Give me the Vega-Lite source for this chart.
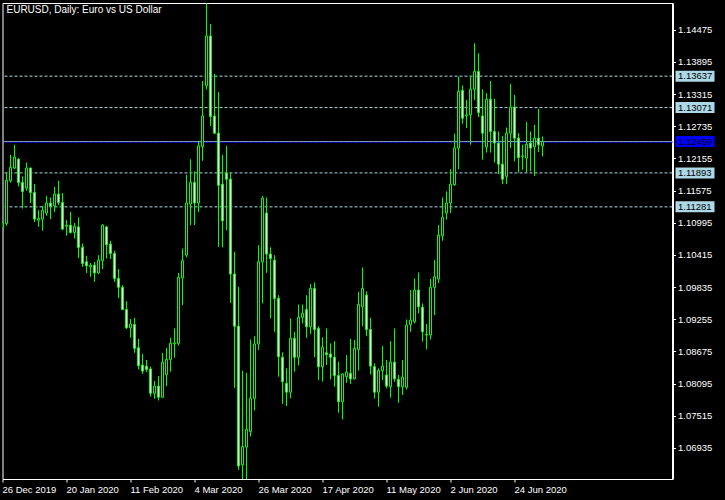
{
"$schema":"https://vega.github.io/schema/vega-lite/v6.json",
"width":670,"height":476,
"autosize":{"type":"none"},
"padding":{"left":2.5,"top":3,"right":52.5,"bottom":21},
"background":"#000000",
"title":{"text":"EURUSD, Daily:  Euro vs US Dollar","anchor":"start","frame":"group","orient":"top","offset":-20,"dx":4,"color":"#ffffff","font":"Liberation Sans","fontSize":10,"fontWeight":"normal","baseline":"alphabetic"},
"config":{"view":{"stroke":"#ffffff","strokeWidth":1},"axis":{"labelColor":"#ffffff","tickColor":"#ffffff","domainColor":"#ffffff","labelFont":"Liberation Sans","labelFontSize":9.5,"grid":false,"labelOverlap":false}},
"datasets":{
"bars":[
{"d":"2019-12-26","o":1.1091,"h":1.1104,"l":1.1088,"c":1.1099},
{"d":"2019-12-27","o":1.1098,"h":1.1190,"l":1.1094,"c":1.1176},
{"d":"2019-12-30","o":1.1175,"h":1.1222,"l":1.1172,"c":1.1199},
{"d":"2019-12-31","o":1.1198,"h":1.1240,"l":1.1196,"c":1.1218},
{"d":"2020-01-02","o":1.1214,"h":1.1216,"l":1.1165,"c":1.1172},
{"d":"2020-01-03","o":1.1172,"h":1.1183,"l":1.1125,"c":1.1156},
{"d":"2020-01-06","o":1.1162,"h":1.1208,"l":1.1157,"c":1.1198},
{"d":"2020-01-07","o":1.1198,"h":1.1199,"l":1.1135,"c":1.1154},
{"d":"2020-01-08","o":1.1154,"h":1.1169,"l":1.1101,"c":1.1106},
{"d":"2020-01-09","o":1.1104,"h":1.1122,"l":1.1092,"c":1.1107},
{"d":"2020-01-10","o":1.1106,"h":1.1130,"l":1.1085,"c":1.1122},
{"d":"2020-01-13","o":1.1117,"h":1.1148,"l":1.1112,"c":1.1135},
{"d":"2020-01-14","o":1.1135,"h":1.1145,"l":1.1106,"c":1.1129},
{"d":"2020-01-15","o":1.1130,"h":1.1164,"l":1.1119,"c":1.1151},
{"d":"2020-01-16","o":1.1151,"h":1.1175,"l":1.1131,"c":1.1136},
{"d":"2020-01-17","o":1.1136,"h":1.1153,"l":1.1086,"c":1.1088},
{"d":"2020-01-20","o":1.1093,"h":1.1104,"l":1.1076,"c":1.1095},
{"d":"2020-01-21","o":1.1095,"h":1.1119,"l":1.1080,"c":1.1082},
{"d":"2020-01-22","o":1.1082,"h":1.1099,"l":1.1071,"c":1.1093},
{"d":"2020-01-23","o":1.1092,"h":1.1109,"l":1.1036,"c":1.1055},
{"d":"2020-01-24","o":1.1055,"h":1.1062,"l":1.1020,"c":1.1026},
{"d":"2020-01-27","o":1.1029,"h":1.1040,"l":1.1009,"c":1.1022},
{"d":"2020-01-28","o":1.1020,"h":1.1027,"l":1.1002,"c":1.1023},
{"d":"2020-01-29","o":1.1023,"h":1.1029,"l":1.0993,"c":1.1009},
{"d":"2020-01-30","o":1.1009,"h":1.1041,"l":1.1007,"c":1.1032},
{"d":"2020-01-31","o":1.1031,"h":1.1097,"l":1.1016,"c":1.1095},
{"d":"2020-02-03","o":1.1092,"h":1.1094,"l":1.1035,"c":1.1060},
{"d":"2020-02-04","o":1.1061,"h":1.1067,"l":1.1034,"c":1.1044},
{"d":"2020-02-05","o":1.1044,"h":1.1049,"l":1.0993,"c":1.0999},
{"d":"2020-02-06","o":1.0999,"h":1.1016,"l":1.0964,"c":1.0983},
{"d":"2020-02-07","o":1.0983,"h":1.0987,"l":1.0942,"c":1.0943},
{"d":"2020-02-10","o":1.0943,"h":1.0958,"l":1.0908,"c":1.0910},
{"d":"2020-02-11","o":1.0910,"h":1.0926,"l":1.0892,"c":1.0917},
{"d":"2020-02-12","o":1.0916,"h":1.0928,"l":1.0865,"c":1.0873},
{"d":"2020-02-13","o":1.0874,"h":1.0890,"l":1.0835,"c":1.0842},
{"d":"2020-02-14","o":1.0843,"h":1.0863,"l":1.0827,"c":1.0832},
{"d":"2020-02-17","o":1.0841,"h":1.0852,"l":1.0830,"c":1.0835},
{"d":"2020-02-18","o":1.0836,"h":1.0840,"l":1.0786,"c":1.0792},
{"d":"2020-02-19","o":1.0792,"h":1.0814,"l":1.0782,"c":1.0805},
{"d":"2020-02-20","o":1.0805,"h":1.0823,"l":1.0779,"c":1.0785},
{"d":"2020-02-21","o":1.0785,"h":1.0865,"l":1.0784,"c":1.0848},
{"d":"2020-02-24","o":1.0826,"h":1.0874,"l":1.0805,"c":1.0853},
{"d":"2020-02-25","o":1.0853,"h":1.0892,"l":1.0831,"c":1.0882},
{"d":"2020-02-26","o":1.0881,"h":1.0909,"l":1.0856,"c":1.0883},
{"d":"2020-02-27","o":1.0882,"h":1.1009,"l":1.0878,"c":1.1001},
{"d":"2020-02-28","o":1.1000,"h":1.1053,"l":1.0951,"c":1.1031},
{"d":"2020-03-02","o":1.1041,"h":1.1186,"l":1.1037,"c":1.1135},
{"d":"2020-03-03","o":1.1133,"h":1.1214,"l":1.1095,"c":1.1172},
{"d":"2020-03-04","o":1.1172,"h":1.1192,"l":1.1095,"c":1.1135},
{"d":"2020-03-05","o":1.1135,"h":1.1247,"l":1.1119,"c":1.1238},
{"d":"2020-03-06","o":1.1237,"h":1.1355,"l":1.1211,"c":1.1292},
{"d":"2020-03-09","o":1.1347,"h":1.1495,"l":1.1340,"c":1.1436},
{"d":"2020-03-10","o":1.1436,"h":1.1458,"l":1.1274,"c":1.1291},
{"d":"2020-03-11","o":1.1292,"h":1.1368,"l":1.1259,"c":1.1261},
{"d":"2020-03-12","o":1.1261,"h":1.1335,"l":1.1056,"c":1.1167},
{"d":"2020-03-13","o":1.1169,"h":1.1222,"l":1.1055,"c":1.1103},
{"d":"2020-03-16","o":1.1189,"h":1.1238,"l":1.1086,"c":1.1178},
{"d":"2020-03-17","o":1.1178,"h":1.1190,"l":1.0955,"c":1.1007},
{"d":"2020-03-18","o":1.1007,"h":1.1047,"l":1.0802,"c":1.0913},
{"d":"2020-03-19","o":1.0913,"h":1.0984,"l":1.0654,"c":1.0661},
{"d":"2020-03-20","o":1.0663,"h":1.0833,"l":1.0636,"c":1.0696},
{"d":"2020-03-23","o":1.0695,"h":1.0829,"l":1.0636,"c":1.0727},
{"d":"2020-03-24","o":1.0723,"h":1.0889,"l":1.0714,"c":1.0783},
{"d":"2020-03-25","o":1.0783,"h":1.0895,"l":1.0761,"c":1.0881},
{"d":"2020-03-26","o":1.0881,"h":1.1059,"l":1.0870,"c":1.1029},
{"d":"2020-03-27","o":1.1029,"h":1.1148,"l":1.0954,"c":1.1144},
{"d":"2020-03-30","o":1.1117,"h":1.1145,"l":1.1009,"c":1.1043},
{"d":"2020-03-31","o":1.1043,"h":1.1055,"l":1.0927,"c":1.1035},
{"d":"2020-04-01","o":1.1032,"h":1.1041,"l":1.0903,"c":1.0963},
{"d":"2020-04-02","o":1.0963,"h":1.0969,"l":1.0822,"c":1.0858},
{"d":"2020-04-03","o":1.0857,"h":1.0866,"l":1.0773,"c":1.0813},
{"d":"2020-04-06","o":1.0810,"h":1.0837,"l":1.0769,"c":1.0794},
{"d":"2020-04-07","o":1.0794,"h":1.0927,"l":1.0783,"c":1.0891},
{"d":"2020-04-08","o":1.0891,"h":1.0903,"l":1.0831,"c":1.0857},
{"d":"2020-04-09","o":1.0857,"h":1.0952,"l":1.0842,"c":1.0929},
{"d":"2020-04-10","o":1.0929,"h":1.0952,"l":1.0918,"c":1.0936},
{"d":"2020-04-13","o":1.0943,"h":1.0969,"l":1.0892,"c":1.0912},
{"d":"2020-04-14","o":1.0912,"h":1.0989,"l":1.0899,"c":1.0981},
{"d":"2020-04-15","o":1.0981,"h":1.0992,"l":1.0857,"c":1.0907},
{"d":"2020-04-16","o":1.0909,"h":1.0913,"l":1.0816,"c":1.0840},
{"d":"2020-04-17","o":1.0840,"h":1.0893,"l":1.0813,"c":1.0875},
{"d":"2020-04-20","o":1.0865,"h":1.0909,"l":1.0843,"c":1.0862},
{"d":"2020-04-21","o":1.0863,"h":1.0882,"l":1.0817,"c":1.0857},
{"d":"2020-04-22","o":1.0857,"h":1.0886,"l":1.0804,"c":1.0824},
{"d":"2020-04-23","o":1.0824,"h":1.0849,"l":1.0757,"c":1.0777},
{"d":"2020-04-24","o":1.0777,"h":1.0828,"l":1.0745,"c":1.0827},
{"d":"2020-04-27","o":1.0822,"h":1.0861,"l":1.0811,"c":1.0830},
{"d":"2020-04-28","o":1.0828,"h":1.0890,"l":1.0809,"c":1.0818},
{"d":"2020-04-29","o":1.0818,"h":1.0888,"l":1.0817,"c":1.0873},
{"d":"2020-04-30","o":1.0871,"h":1.0975,"l":1.0833,"c":1.0952},
{"d":"2020-05-01","o":1.0948,"h":1.1019,"l":1.0913,"c":1.0981},
{"d":"2020-05-04","o":1.0969,"h":1.0976,"l":1.0895,"c":1.0907},
{"d":"2020-05-05","o":1.0907,"h":1.0928,"l":1.0826,"c":1.0841},
{"d":"2020-05-06","o":1.0840,"h":1.0846,"l":1.0783,"c":1.0794},
{"d":"2020-05-07","o":1.0794,"h":1.0837,"l":1.0768,"c":1.0833},
{"d":"2020-05-08","o":1.0833,"h":1.0877,"l":1.0816,"c":1.0841},
{"d":"2020-05-11","o":1.0825,"h":1.0852,"l":1.0801,"c":1.0805},
{"d":"2020-05-12","o":1.0804,"h":1.0886,"l":1.0784,"c":1.0848},
{"d":"2020-05-13","o":1.0848,"h":1.0909,"l":1.0813,"c":1.0818},
{"d":"2020-05-14","o":1.0817,"h":1.0825,"l":1.0775,"c":1.0804},
{"d":"2020-05-15","o":1.0804,"h":1.0852,"l":1.0789,"c":1.0821},
{"d":"2020-05-18","o":1.0803,"h":1.0925,"l":1.0799,"c":1.0915},
{"d":"2020-05-19","o":1.0916,"h":1.0978,"l":1.0903,"c":1.0924},
{"d":"2020-05-20","o":1.0921,"h":1.0999,"l":1.0918,"c":1.0978},
{"d":"2020-05-21","o":1.0978,"h":1.1010,"l":1.0936,"c":1.0948},
{"d":"2020-05-22","o":1.0947,"h":1.0954,"l":1.0885,"c":1.0903},
{"d":"2020-05-25","o":1.0898,"h":1.0917,"l":1.0871,"c":1.0897},
{"d":"2020-05-26","o":1.0897,"h":1.0998,"l":1.0889,"c":1.0983},
{"d":"2020-05-27","o":1.0983,"h":1.1032,"l":1.0933,"c":1.1002},
{"d":"2020-05-28","o":1.0998,"h":1.1095,"l":1.0991,"c":1.1077},
{"d":"2020-05-29","o":1.1076,"h":1.1145,"l":1.1067,"c":1.1109},
{"d":"2020-06-01","o":1.1117,"h":1.1156,"l":1.1105,"c":1.1135},
{"d":"2020-06-02","o":1.1135,"h":1.1196,"l":1.1117,"c":1.1169},
{"d":"2020-06-03","o":1.1168,"h":1.1260,"l":1.1166,"c":1.1234},
{"d":"2020-06-04","o":1.1234,"h":1.1363,"l":1.1196,"c":1.1336},
{"d":"2020-06-05","o":1.1338,"h":1.1347,"l":1.1278,"c":1.1288},
{"d":"2020-06-08","o":1.1292,"h":1.1321,"l":1.1270,"c":1.1294},
{"d":"2020-06-09","o":1.1294,"h":1.1363,"l":1.1240,"c":1.1340},
{"d":"2020-06-10","o":1.1340,"h":1.1423,"l":1.1321,"c":1.1372},
{"d":"2020-06-11","o":1.1372,"h":1.1405,"l":1.1290,"c":1.1298},
{"d":"2020-06-12","o":1.1292,"h":1.1340,"l":1.1213,"c":1.1261},
{"d":"2020-06-15","o":1.1236,"h":1.1333,"l":1.1226,"c":1.1322},
{"d":"2020-06-16","o":1.1322,"h":1.1355,"l":1.1226,"c":1.1264},
{"d":"2020-06-17","o":1.1264,"h":1.1323,"l":1.1208,"c":1.1243},
{"d":"2020-06-18","o":1.1243,"h":1.1264,"l":1.1187,"c":1.1205},
{"d":"2020-06-19","o":1.1205,"h":1.1256,"l":1.1169,"c":1.1178},
{"d":"2020-06-22","o":1.1183,"h":1.1271,"l":1.1169,"c":1.1261},
{"d":"2020-06-23","o":1.1261,"h":1.1350,"l":1.1234,"c":1.1308},
{"d":"2020-06-24","o":1.1308,"h":1.1330,"l":1.1210,"c":1.1252},
{"d":"2020-06-25","o":1.1252,"h":1.1261,"l":1.1190,"c":1.1217},
{"d":"2020-06-26","o":1.1219,"h":1.1240,"l":1.1195,"c":1.1220},
{"d":"2020-06-29","o":1.1216,"h":1.1281,"l":1.1190,"c":1.1241},
{"d":"2020-06-30","o":1.1243,"h":1.1264,"l":1.1192,"c":1.1234},
{"d":"2020-07-01","o":1.1236,"h":1.1276,"l":1.1184,"c":1.1252},
{"d":"2020-07-02","o":1.1252,"h":1.1305,"l":1.1227,"c":1.1240},
{"d":"2020-07-03","o":1.1238,"h":1.1255,"l":1.1219,"c":1.1246}
],
"levels":[
{"p":1.13637,"k":"level"},
{"p":1.13071,"k":"level"},
{"p":1.12459,"k":"bid"},
{"p":1.11893,"k":"level"},
{"p":1.11281,"k":"level"}
]
},
"layer":[
{
"data":{"name":"levels"},
"transform":[{"filter":"datum.k == 'level'"}],
"mark":{"type":"rule","color":"#add8e6","strokeWidth":1,"strokeDash":[3,2]},
"encoding":{"y":{"field":"p","type":"quantitative","title":null,"scale":{"domain":[1.06375,1.14956],"zero":false,"nice":false},
"axis":{"orient":"right","values":[1.14475,1.13895,1.13315,1.12735,1.12155,1.11575,1.10995,1.10415,1.09835,1.09255,1.08675,1.08095,1.07515,1.06935],"tickCount":30,"format":".5f","tickSize":3,"labelPadding":2,"domainWidth":2,"labelBaseline":"middle","labelOverlap":false}}}
},
{
"data":{"name":"levels"},
"transform":[{"filter":"datum.k == 'bid'"}],
"mark":{"type":"rule","color":"#0000ff","strokeWidth":1,"strokeDash":[3,2],"yOffset":1},
"encoding":{"y":{"field":"p","type":"quantitative","title":null}}
},
{
"data":{"name":"levels"},
"transform":[{"filter":"datum.k == 'bid'"}],
"mark":{"type":"rule","color":"#8493b0","strokeWidth":1},
"encoding":{"y":{"field":"p","type":"quantitative","title":null}}
},
{
"data":{"name":"bars"},
"mark":{"type":"rule","color":"#00ff00","strokeWidth":1,"clip":true},
"encoding":{
"x":{"field":"d","type":"ordinal","title":null,"sort":null,"scale":{"type":"band","paddingInner":0,"paddingOuter":0,"range":[-2,542]},
"axis":{"orient":"bottom","domain":false,"values":["2019-12-26","2020-01-20","2020-02-11","2020-03-04","2020-03-26","2020-04-17","2020-05-11","2020-06-02","2020-06-24"],"labelExpr":"utcFormat(toDate(datum.value), '%-d %b %Y')","labelAlign":"left","labelAngle":0,"tickSize":3,"labelPadding":2,"labelBaseline":"top","labelFlush":false,"labelOverlap":false,"bandPosition":0.5}},
"y":{"field":"l","type":"quantitative","title":null},
"y2":{"field":"h"}
}
},
{
"data":{"name":"bars"},
"mark":{"type":"bar","width":2,"stroke":"#00ff00","strokeWidth":1,"clip":true},
"encoding":{
"x":{"field":"d","type":"ordinal","sort":null,"title":null,"scale":{"type":"band","paddingInner":0,"paddingOuter":0,"range":[-2,542]}},
"y":{"field":"o","type":"quantitative","title":null},
"y2":{"field":"c"},
"fill":{"condition":{"test":"datum.c < datum.o","value":"#ffffff"},"value":"#000000"}
}
},
{
"data":{"name":"levels"},
"mark":{"type":"rect","x2Offset":42,"xOffset":3,"yOffset":-5.5,"y2Offset":5.5},
"encoding":{
"x":{"value":"width"},"x2":{"value":"width"},
"y":{"field":"p","type":"quantitative","title":null},
"y2":{"field":"p"},
"fill":{"condition":{"test":"datum.k == 'bid'","value":"#0000ff"},"value":"#add8e6"}
}
},
{
"data":{"name":"levels"},
"mark":{"type":"text","align":"left","baseline":"middle","dx":5.5,"font":"Liberation Sans","fontSize":9.5,"color":"#000000"},
"encoding":{
"x":{"value":"width"},
"y":{"field":"p","type":"quantitative","title":null},
"text":{"field":"p","type":"quantitative","format":".5f"}
}
}
]
}
